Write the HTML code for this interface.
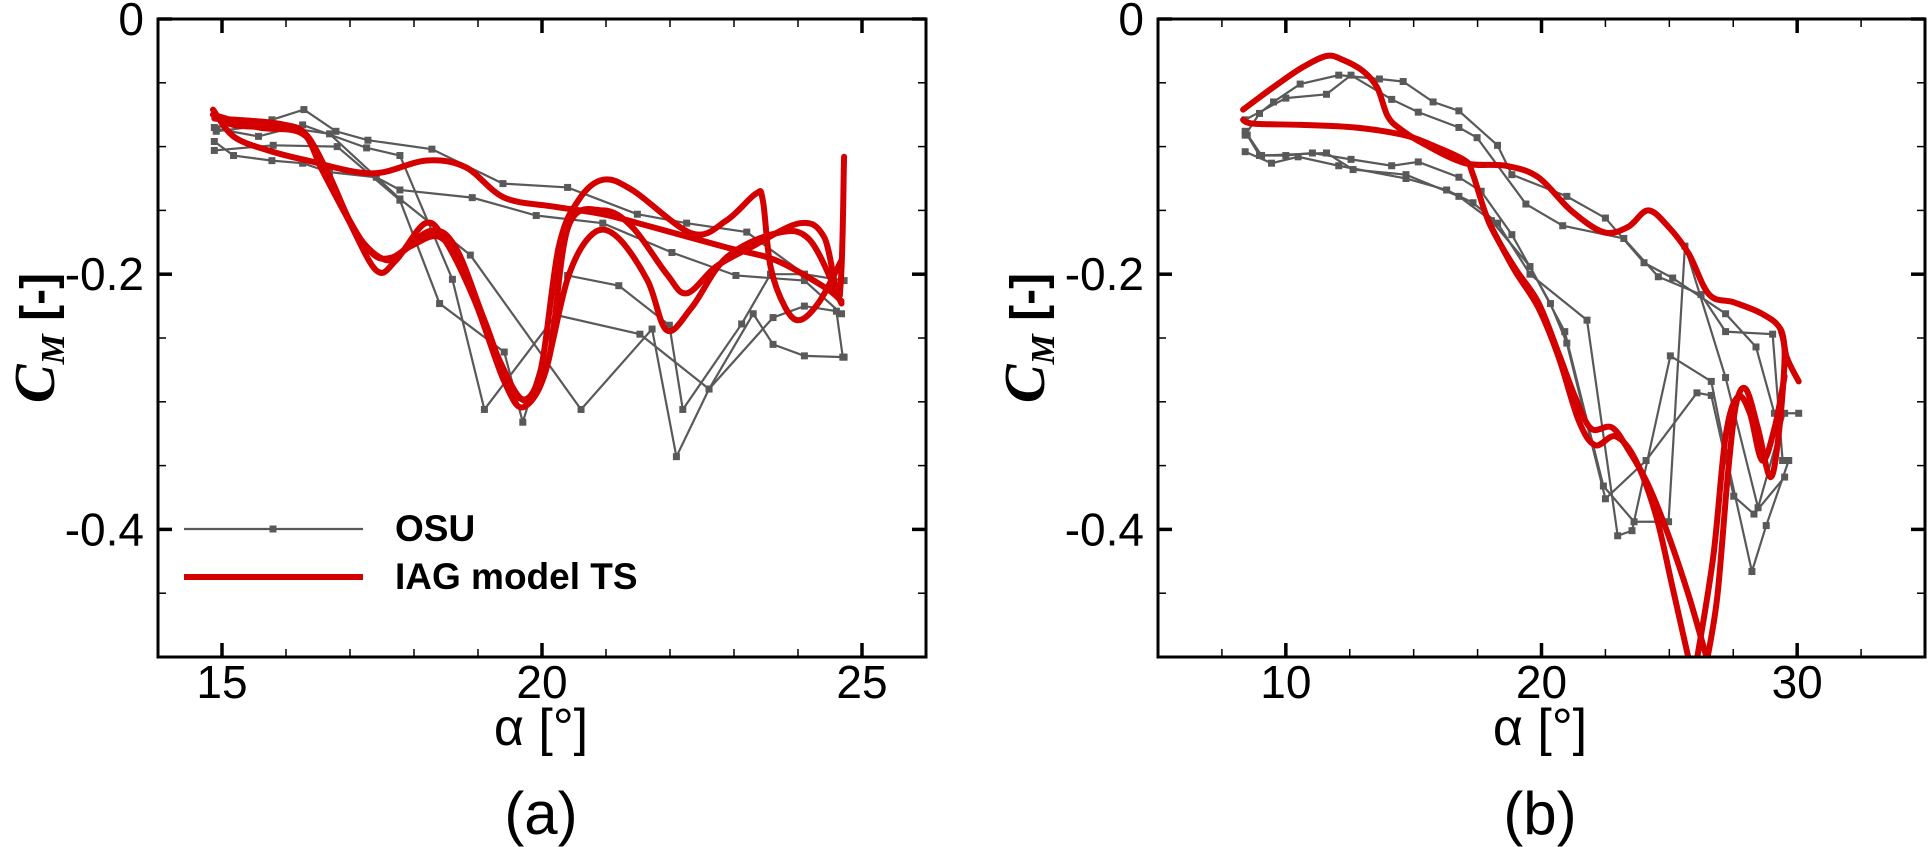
<!DOCTYPE html>
<html><head><meta charset="utf-8">
<style>
html,body{margin:0;padding:0;background:#fff;}
svg{display:block;}
text{font-family:"Liberation Sans",sans-serif;fill:#000;}
</style></head>
<body>
<svg id="chart" width="1928" height="847" viewBox="0 0 1928 847" xmlns="http://www.w3.org/2000/svg">
<defs>
<clipPath id="clipA"><rect x="158" y="19" width="768" height="638"/></clipPath>
<clipPath id="clipB"><rect x="1158" y="19" width="767" height="638"/></clipPath>
</defs>
<g id="panelA"></g>
<g id="panelB"></g>
</svg>
<script>
// ---------- Panel (a) data ----------
const aXTicks = [15, 20, 25];
const aYTicks = [0, -0.2, -0.4];
const aYTickLabels = ["0", "-0.2", "-0.4"];
const aOsu1 = [[14.88,-0.085],[15.78,-0.079],[16.28,-0.071],[16.78,-0.088],[17.28,-0.095],[18.28,-0.102],[19.39,-0.129],[20.4,-0.132],[21.49,-0.153],[22.26,-0.16],[23.2,-0.167],[24.1,-0.2],[24.72,-0.205]];
const aOsu2 = [[14.88,-0.096],[15.18,-0.107],[15.78,-0.111],[16.26,-0.113],[16.68,-0.12],[17.41,-0.124],[17.78,-0.134],[18.91,-0.14],[19.91,-0.154],[20.95,-0.16],[22.03,-0.183],[23.03,-0.201],[24.1,-0.205],[24.68,-0.231]];
const aOsu3 = [[14.91,-0.086],[15.57,-0.092],[16.26,-0.083],[17.26,-0.101],[17.78,-0.107],[18.6,-0.204],[19.1,-0.306],[20.22,-0.232],[21.53,-0.247],[22.61,-0.29],[23.3,-0.231],[23.61,-0.255],[24.1,-0.264],[24.72,-0.265]];
const aOsu4 = [[14.88,-0.103],[15.8,-0.099],[16.8,-0.1],[17.78,-0.142],[18.4,-0.223],[19.41,-0.261],[19.7,-0.316],[20.4,-0.201],[21.2,-0.209],[21.99,-0.24],[22.2,-0.306],[23.12,-0.239],[23.57,-0.2],[24.1,-0.2],[24.65,-0.215]];
const aOsu5 = [[14.91,-0.088],[15.72,-0.083],[16.68,-0.09],[17.78,-0.141],[18.88,-0.185],[20.61,-0.306],[21.72,-0.243],[22.1,-0.343],[22.61,-0.29],[23.61,-0.234],[24.1,-0.225],[24.6,-0.229],[24.7,-0.265]];
const aIag1 = [[14.86,-0.071],[15.18,-0.092],[15.72,-0.103],[16.34,-0.111],[17.34,-0.121],[18.18,-0.111],[18.8,-0.116],[19.41,-0.14],[20.18,-0.147],[20.95,-0.153],[21.72,-0.163],[22.88,-0.179],[23.65,-0.189],[24.41,-0.21],[24.68,-0.221]];
const aIag2 = [[14.86,-0.075],[15.18,-0.083],[15.72,-0.085],[16.26,-0.089],[16.57,-0.119],[16.95,-0.155],[17.41,-0.197],[17.72,-0.189],[18.18,-0.16],[18.49,-0.174],[18.95,-0.221],[19.41,-0.284],[19.72,-0.304],[20.1,-0.268],[20.41,-0.163],[20.95,-0.15],[21.41,-0.163],[21.95,-0.2],[22.26,-0.215],[22.72,-0.194],[23.26,-0.179],[24.03,-0.16],[24.41,-0.171],[24.65,-0.215],[24.72,-0.108]];
const aIag3 = [[14.88,-0.078],[15.88,-0.082],[16.34,-0.092],[16.72,-0.132],[17.26,-0.179],[17.65,-0.187],[18.26,-0.166],[18.65,-0.179],[19.1,-0.236],[19.57,-0.294],[19.95,-0.281],[20.26,-0.179],[20.57,-0.142],[20.95,-0.126],[21.41,-0.134],[22.34,-0.168],[22.88,-0.158],[23.34,-0.137],[23.45,-0.142],[23.57,-0.194],[23.8,-0.226],[24.03,-0.236],[24.34,-0.221],[24.68,-0.189]];
const aIag4 = [[14.86,-0.075],[15.57,-0.085],[16.26,-0.09],[16.65,-0.12],[17.1,-0.168],[17.57,-0.189],[17.95,-0.178],[18.41,-0.171],[18.8,-0.2],[19.34,-0.268],[19.72,-0.299],[20.03,-0.28],[20.41,-0.202],[20.8,-0.168],[21.18,-0.171],[21.65,-0.205],[21.95,-0.244],[22.34,-0.226],[22.88,-0.187],[23.65,-0.168],[24.18,-0.173],[24.68,-0.223]];

// ---------- Panel (b) data ----------
const bXTicks = [10, 20, 30];
const bYTicks = [0, -0.2, -0.4];
const bYTickLabels = ["0", "-0.2", "-0.4"];
const bOsu1 = [[8.41,-0.091],[8.97,-0.074],[9.52,-0.065],[10.56,-0.051],[12.07,-0.044],[13.66,-0.047],[14.59,-0.049],[15.76,-0.065],[16.77,-0.072],[18.28,-0.099],[18.84,-0.122],[20.99,-0.139],[22.5,-0.156],[24.01,-0.191],[25.13,-0.203],[27.2,-0.231],[28.39,-0.257],[29.11,-0.309],[30.06,-0.309]];
const bOsu2 = [[8.41,-0.079],[10,-0.062],[11.59,-0.059],[12.55,-0.044],[14.14,-0.063],[15.18,-0.073],[16.77,-0.085],[17.48,-0.093],[19.39,-0.145],[20.83,-0.162],[23.22,-0.172],[24.57,-0.202],[26.24,-0.216],[27.2,-0.245],[29.04,-0.247],[29.43,-0.346]];
const bOsu3 = [[8.41,-0.104],[9.44,-0.113],[10.48,-0.108],[12.07,-0.115],[14.7,-0.125],[16.29,-0.134],[17.32,-0.144],[18.28,-0.16],[19.55,-0.2],[21.78,-0.236],[22.98,-0.405],[23.54,-0.401],[25.04,-0.264],[26.64,-0.284],[27.2,-0.34],[28.23,-0.433],[28.79,-0.397],[29.67,-0.346]];
const bOsu4 = [[8.49,-0.091],[8.97,-0.107],[10,-0.107],[11.04,-0.105],[12.55,-0.11],[14.14,-0.115],[15.18,-0.112],[16.77,-0.124],[17.64,-0.135],[18.84,-0.169],[20.35,-0.223],[20.99,-0.254],[22.5,-0.376],[24.09,-0.346],[26.08,-0.293],[26.64,-0.295],[27.52,-0.374],[28.31,-0.388],[29.51,-0.359]];
const bOsu5 = [[8.41,-0.088],[9.05,-0.107],[11.59,-0.105],[12.63,-0.118],[14.7,-0.122],[16.77,-0.139],[18.04,-0.158],[19.55,-0.194],[20.91,-0.245],[22.42,-0.366],[23.62,-0.394],[24.97,-0.394],[25.61,-0.178],[27.2,-0.281],[28.47,-0.383],[29.51,-0.309]];
const bIag1 = [[8.33,-0.071],[8.73,-0.065],[9.68,-0.051],[10.64,-0.038],[11.59,-0.029],[12.23,-0.032],[13.03,-0.041],[13.58,-0.054],[13.98,-0.076],[14.46,-0.086],[15.41,-0.098],[17.01,-0.113],[18.6,-0.115],[19.87,-0.124],[21.15,-0.15],[22.42,-0.167],[23.38,-0.163],[24.17,-0.15],[24.97,-0.163],[25.76,-0.184],[26.56,-0.216],[27.52,-0.222],[28.63,-0.231],[29.35,-0.243],[29.59,-0.265],[30.06,-0.284]];
const bIag2 = [[8.33,-0.079],[8.73,-0.082],[10.64,-0.083],[12.71,-0.085],[14.62,-0.091],[15.73,-0.099],[17.01,-0.111],[17.32,-0.122],[17.96,-0.16],[18.92,-0.194],[19.87,-0.222],[20.67,-0.262],[21.31,-0.296],[21.94,-0.321],[22.74,-0.32],[23.38,-0.337],[24.17,-0.365],[24.97,-0.405],[25.76,-0.452],[26.48,-0.502]];
const bIag3 = [[17.96,-0.16],[18.92,-0.196],[19.87,-0.226],[20.67,-0.265],[21.46,-0.315],[22.1,-0.334],[22.9,-0.327],[23.69,-0.346],[24.49,-0.39],[25.13,-0.446],[25.76,-0.502]];
const bIag4 = [[26.48,-0.502],[26.88,-0.452],[27.28,-0.359],[27.6,-0.303],[27.99,-0.29],[28.47,-0.321],[28.95,-0.359],[29.27,-0.327],[29.51,-0.265],[29.35,-0.243]];
const bIag5 = [[26.08,-0.502],[26.72,-0.421],[27.2,-0.327],[27.68,-0.296],[28.15,-0.309],[28.63,-0.346],[29.11,-0.321],[29.51,-0.28]];

const NS = "http://www.w3.org/2000/svg";
function mk(tag, attrs, parent) {
  const e = document.createElementNS(NS, tag);
  for (const k in attrs) e.setAttribute(k, attrs[k]);
  parent.appendChild(e);
  return e;
}
function linScale(d0, d1, r0, r1) { return v => r0 + (v - d0) * (r1 - r0) / (d1 - d0); }
function smoothPath(pts) {
  let d = "M" + pts[0][0].toFixed(1) + "," + pts[0][1].toFixed(1);
  for (let i = 0; i < pts.length - 1; i++) {
    const p0 = pts[Math.max(0, i - 1)], p1 = pts[i], p2 = pts[i + 1], p3 = pts[Math.min(pts.length - 1, i + 2)];
    const c1x = p1[0] + (p2[0] - p0[0]) / 6, c1y = p1[1] + (p2[1] - p0[1]) / 6;
    const c2x = p2[0] - (p3[0] - p1[0]) / 6, c2y = p2[1] - (p3[1] - p1[1]) / 6;
    d += "C" + c1x.toFixed(1) + "," + c1y.toFixed(1) + " " + c2x.toFixed(1) + "," + c2y.toFixed(1) + " " + p2[0].toFixed(1) + "," + p2[1].toFixed(1);
  }
  return d;
}

function drawPanel(cfg) {
  const g = document.getElementById(cfg.id);
  const L = cfg.left, R = cfg.right, T = 19, B = 657;
  const x = linScale(cfg.xmin, cfg.xmax, L, R);
  const y = linScale(0, -0.5, T, B);
  const data = mk("g", {"clip-path": "url(#" + cfg.clip + ")"}, g);
  
  
  cfg.osu.forEach((s, i) => {
    const pts = s.map(p => [x(p[0]), y(p[1])]);
    const pl = mk("polyline", {points: pts.map(p => p.join(",")).join(" "), fill: "none", stroke: "#595959", "stroke-width": 2.2}, data);
    
    
    pts.forEach(p => {
      const m = mk("rect", {x: p[0] - 3.5, y: p[1] - 3.5, width: 7, height: 7, fill: "#595959"}, data);
      
      
    });
  });
  cfg.iag.forEach((s, i) => {
    const pts = s.map(p => [x(p[0]), y(p[1])]);
    const pa = mk("path", {d: smoothPath(pts), fill: "none", stroke: "#d40000", "stroke-width": 6, "stroke-linejoin": "round", "stroke-linecap": "round"}, data);
    
    
  });
  const ticks = mk("g", {stroke: "#000"}, g);
  
  
  for (let v = Math.ceil(cfg.xmin / cfg.xminor) * cfg.xminor; v <= cfg.xmax + 1e-9; v += cfg.xminor) {
    const major = cfg.xticks.some(t => Math.abs(t - v) < 1e-6);
    const len = major ? 14 : 8, w = major ? 3.5 : 1.5, px = x(v);
    mk("line", {x1: px, y1: B, x2: px, y2: B - len, "stroke-width": w}, ticks);
    mk("line", {x1: px, y1: T, x2: px, y2: T + len, "stroke-width": w}, ticks);
  }
  for (let k = 0; k <= 10; k++) {
    const v = -0.05 * k;
    const major = cfg.yticks.some(t => Math.abs(t - v) < 1e-6);
    const len = major ? 14 : 8, w = major ? 3.5 : 1.5, py = y(v);
    mk("line", {x1: L, y1: py, x2: L + len, y2: py, "stroke-width": w}, ticks);
    mk("line", {x1: R, y1: py, x2: R - len, y2: py, "stroke-width": w}, ticks);
  }
  const fr = mk("rect", {x: L, y: T, width: R - L, height: B - T, fill: "none", stroke: "#000", "stroke-width": 3}, g);
  
  
  cfg.xticks.forEach(v => {
    const t = mk("text", {x: x(v), y: 698, "text-anchor": "middle", "font-size": 46}, g);
    t.textContent = String(v);
    
    
  });
  cfg.yticks.forEach((v, i) => {
    const t = mk("text", {x: L - 14, y: y(v) + 16, "text-anchor": "end", "font-size": 46}, g);
    t.textContent = cfg.ylabels[i];
    
    
  });
  const xt = mk("text", {x: cfg.xtitleX, y: 745, "text-anchor": "middle", "font-size": 52}, g);
  xt.textContent = "α [°]";
  
  
  const yt = mk("text", {x: 0, y: 0, "text-anchor": "middle", "font-size": 48, "font-weight": "bold", transform: "translate(" + (cfg.ytitleX) + ",338) rotate(-90)"}, g);
  yt.innerHTML = '<tspan font-family="Liberation Serif" font-style="italic" font-size="58">C</tspan><tspan font-family="Liberation Serif" font-style="italic" font-size="34" dy="10">M</tspan><tspan dy="-10"> [-]</tspan>';
  
  
  const cap = mk("text", {x: cfg.xtitleX, y: 834, "text-anchor": "middle", "font-size": 60}, g);
  cap.textContent = cfg.caption;
  
  
}

drawPanel({id: "panelA", clip: "clipA", left: 158, right: 926, xmin: 14, xmax: 26, xminor: 1,
  xticks: aXTicks, yticks: aYTicks, ylabels: aYTickLabels,
  osu: [aOsu1, aOsu2, aOsu3, aOsu4, aOsu5], iag: [aIag1, aIag2, aIag3, aIag4],
  xtitleX: 541, ytitleX: 54, caption: "(a)"});
drawPanel({id: "panelB", clip: "clipB", left: 1158, right: 1925, xmin: 5, xmax: 35, xminor: 2.5,
  xticks: bXTicks, yticks: bYTicks, ylabels: bYTickLabels,
  osu: [bOsu1, bOsu2, bOsu3, bOsu4, bOsu5], iag: [bIag1, bIag2, bIag3, bIag4, bIag5],
  xtitleX: 1540, ytitleX: 1044, caption: "(b)"});

const pa = document.getElementById("panelA");
const lg = mk("g", {}, pa);


const l1 = mk("line", {x1: 184, y1: 529, x2: 363, y2: 529, stroke: "#595959", "stroke-width": 2.2}, lg);


const lm = mk("rect", {x: 269.5, y: 525.5, width: 7, height: 7, fill: "#595959"}, lg);


const t1 = mk("text", {x: 395, y: 541, "font-size": 37, "font-weight": "bold"}, lg);
t1.textContent = "OSU";


const l2 = mk("line", {x1: 184, y1: 577, x2: 363, y2: 577, stroke: "#d40000", "stroke-width": 6}, lg);


const t2 = mk("text", {x: 395, y: 589, "font-size": 37, "font-weight": "bold"}, lg);
t2.textContent = "IAG model TS";


</script>
</body></html>
